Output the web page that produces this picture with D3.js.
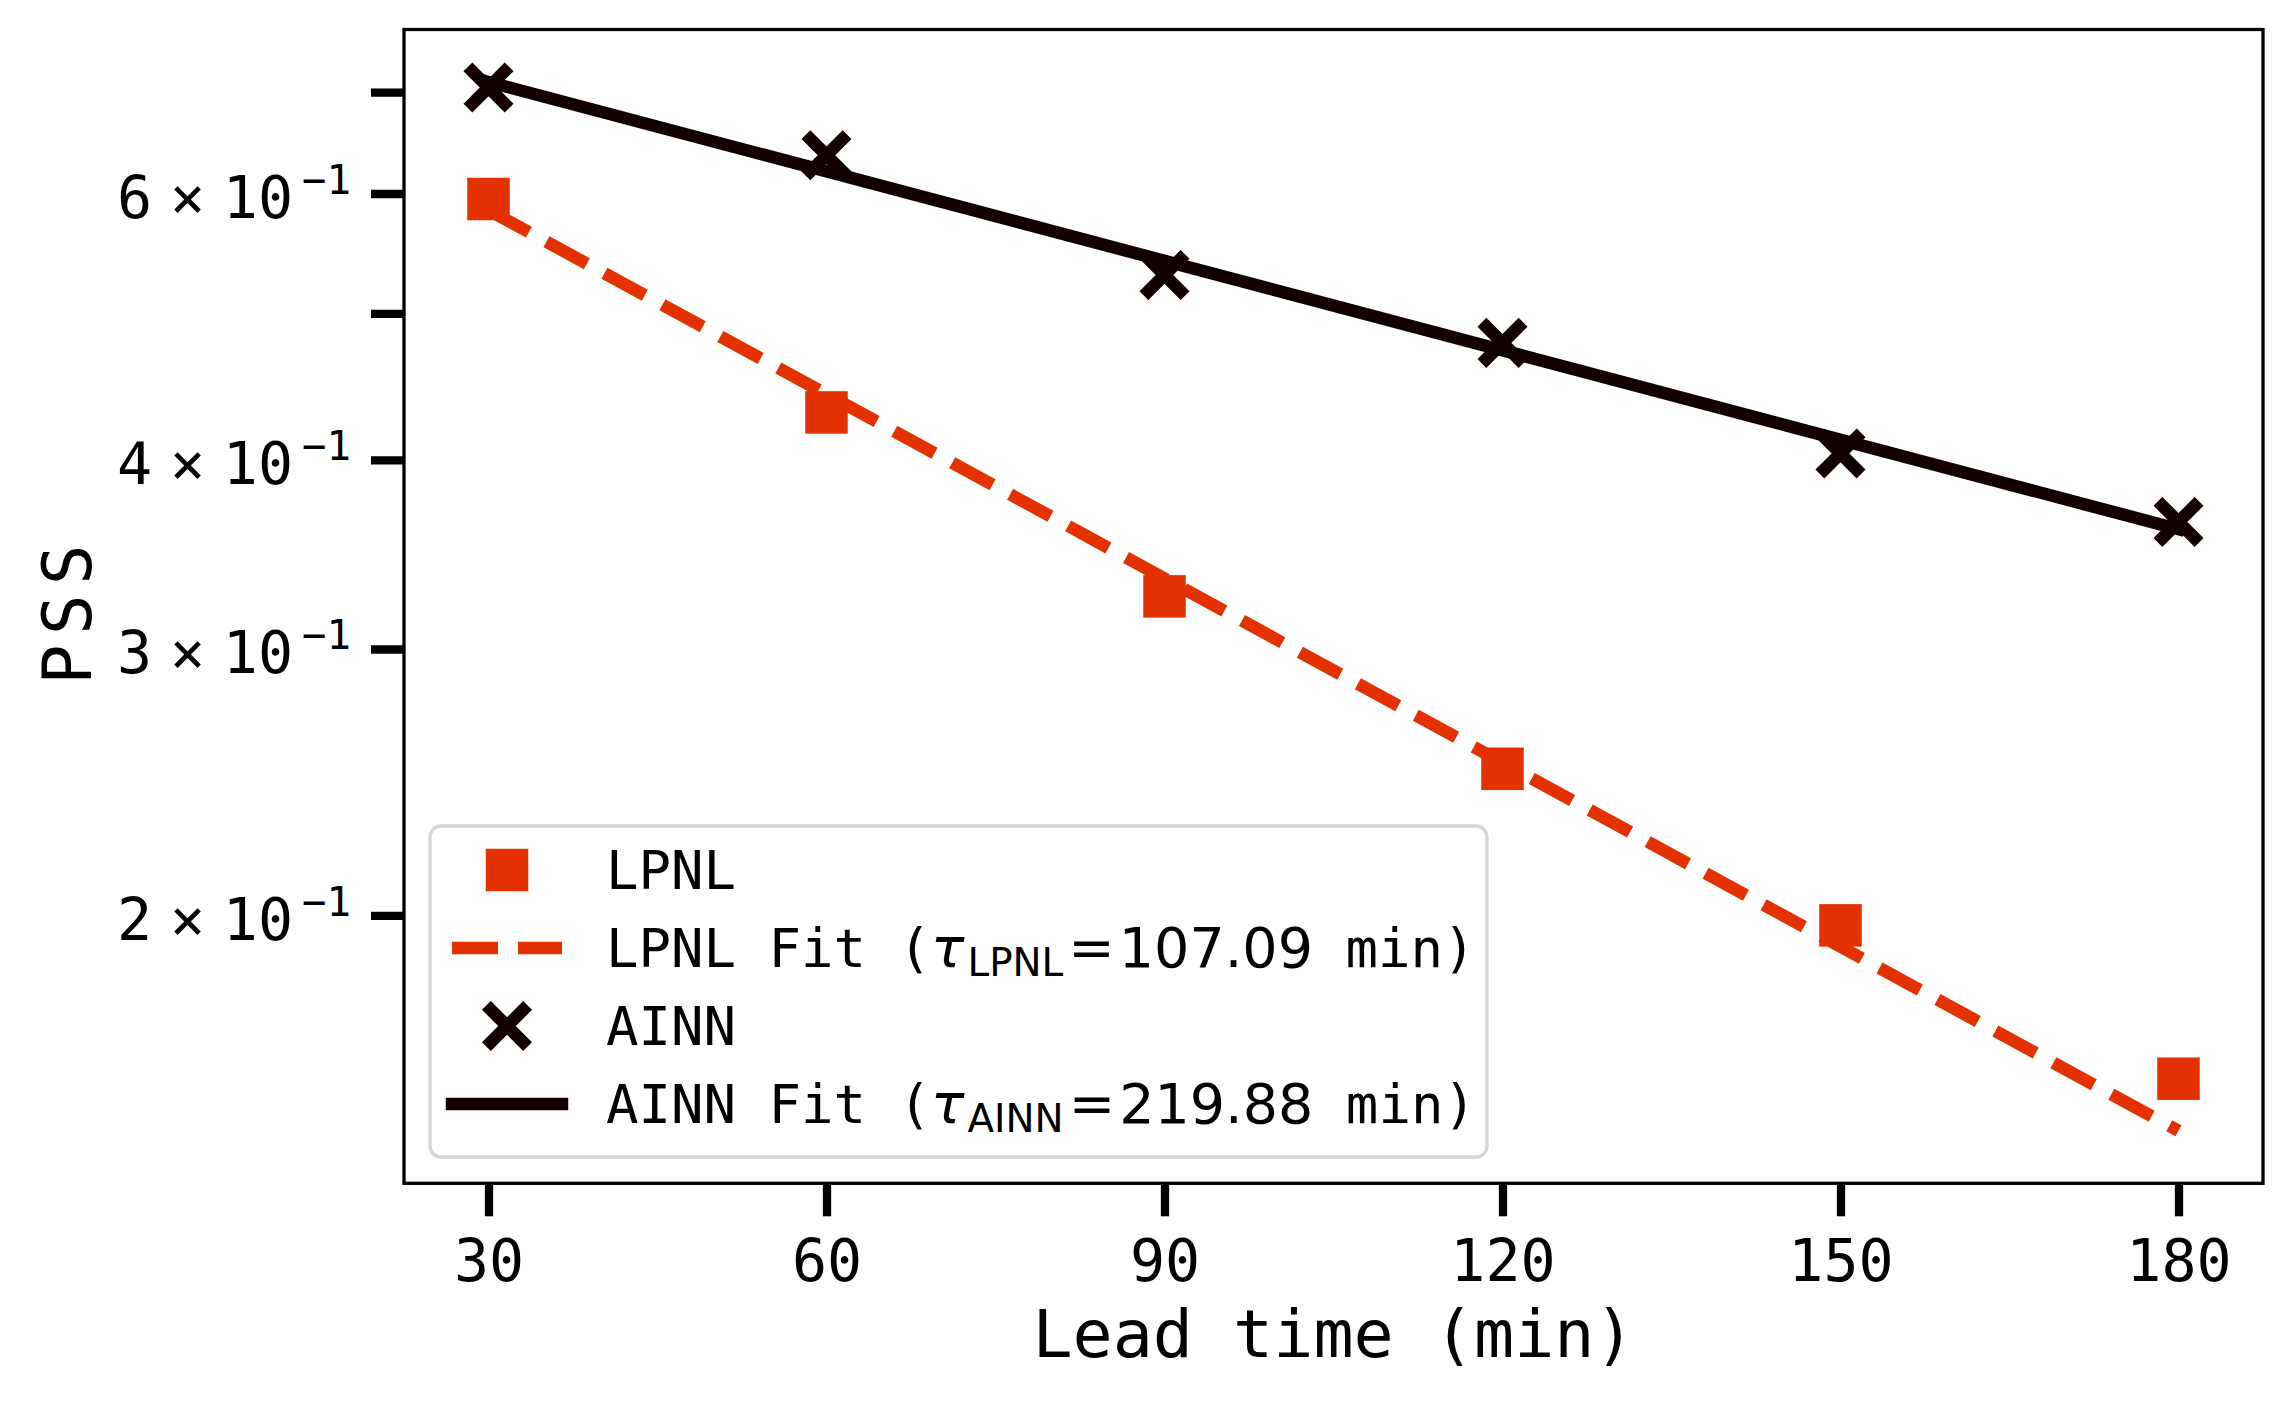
<!DOCTYPE html>
<html>
<head>
<meta charset="utf-8">
<title>PSS vs lead time</title>
<script src="https://cdn.jsdelivr.net/npm/d3@7"></script>
<style>
  body { margin: 0; background: #fff; }
  svg { display: block; background: #fff; }
  text { font-family: "DejaVu Sans Mono", monospace; fill: #000; white-space: pre; }
  .math { font-family: "DejaVu Sans", sans-serif; }
</style>
</head>
<body>
<svg id="chart" width="2293" height="1401"></svg>
<script>
// values
leadTimes = [30, 60, 90, 120, 150, 180];
lpnlPss = [0.595, 0.430, 0.325, 0.250, 0.197, 0.156];
ainnPss = [0.705, 0.636, 0.530, 0.478, 0.404, 0.364];
fitLead = [30, 180];
lpnlFit = [0.585, 0.1441];
ainnFit = [0.711, 0.360];
lpnlTau = "107.09";
ainnTau = "219.88";
xTicks = [30, 60, 90, 120, 150, 180];
yTicks = [0.2, 0.3, 0.4, 0.5, 0.6, 0.7];
yTickMantissa = ["2", "3", "4", "", "6", ""];

// look
red = "#e33200";
dark = "#120000";
lw = 12.5;
monoSize = 54;
mathSize = 55.5;

chart = d3.select("#chart");

// axes box, matplotlib-style 5% margins
axLeft = 404; axRight = 2263; axTop = 29.5; axBottom = 1183.3;
xExt = d3.extent(leadTimes);
xPad = (xExt[1] - xExt[0]) * 0.05;
x = d3.scaleLinear().domain([xExt[0] - xPad, xExt[1] + xPad]).range([axLeft, axRight]);
allY = lpnlPss.concat(ainnPss, lpnlFit, ainnFit);
lo = Math.log10(d3.min(allY)); hi = Math.log10(d3.max(allY));
yPad = (hi - lo) * 0.05;
y = d3.scaleLog().domain([Math.pow(10, lo - yPad), Math.pow(10, hi + yPad)]).range([axBottom, axTop]);

// x axis
xAxis = d3.axisBottom(x).tickValues(xTicks).tickSize(33).tickSizeOuter(0);
xAxisGroup = chart.append("g").attr("transform", "translate(0," + axBottom + ")").call(xAxis);
xAxisGroup.select(".domain").remove();
xAxisGroup.selectAll(".tick line").attr("stroke", "#000").attr("stroke-width", 8.3);
xAxisGroup.selectAll(".tick text")
  .attr("y", 97.4).attr("dy", null)
  .attr("font-size", 58.3).attr("font-family", "DejaVu Sans Mono").attr("fill", "#000");

// y axis (log), labelled as  m × 10^-1
yAxis = d3.axisLeft(y).tickValues(yTicks).tickSize(33).tickSizeOuter(0).tickFormat("");
yAxisGroup = chart.append("g").attr("transform", "translate(" + axLeft + ",0)").call(yAxis);
yAxisGroup.select(".domain").remove();
yAxisGroup.selectAll(".tick line").attr("stroke", "#000").attr("stroke-width", 8.3);
yAxisGroup.selectAll(".tick text").remove();
yAxisGroup.selectAll(".tick").each(function(d, i) {
  if (!yTickMantissa[i]) return;
  var t = d3.select(this).append("text")
    .attr("x", -287).attr("y", 24)
    .attr("font-size", 58.3).attr("text-anchor", "start");
  t.append("tspan").text(yTickMantissa[i]);
  t.append("tspan").attr("dx", 18).text("×");
  t.append("tspan").attr("dx", 17.6).text("10");
  t.append("tspan").attr("dx", 8.8).attr("dy", -24).attr("font-size", 40.8).text("−1");
});

// axis labels
chart.append("text")
  .attr("x", (axLeft + axRight) / 2).attr("y", 1357)
  .attr("text-anchor", "middle").attr("font-size", 66.7)
  .text("Lead time (min)");
chart.append("text")
  .attr("transform", "translate(91,610) rotate(-90)")
  .attr("text-anchor", "middle").attr("font-size", 67)
  .attr("letter-spacing", 9.5)
  .text("PSS");

// plot
plot = chart.append("g");
line = d3.line()
  .x(function(d) { return x(d[0]); })
  .y(function(d) { return y(d[1]); });

function squares(g, xs, ys) {
  g.selectAll(null).data(d3.zip(xs, ys)).enter().append("rect")
    .attr("x", function(d) { return x(d[0]) - 21.25; })
    .attr("y", function(d) { return y(d[1]) - 21.25; })
    .attr("width", 42.5).attr("height", 42.5)
    .attr("fill", red);
}
function crossPath(cx, cy) {
  var s = 20.6;
  return "M" + (cx - s) + "," + (cy - s) + "L" + (cx + s) + "," + (cy + s) +
    "M" + (cx - s) + "," + (cy + s) + "L" + (cx + s) + "," + (cy - s);
}
function crosses(g, xs, ys) {
  g.selectAll(null).data(d3.zip(xs, ys)).enter().append("path")
    .attr("d", function(d) { return crossPath(x(d[0]), y(d[1])); })
    .attr("fill", "none").attr("stroke", dark).attr("stroke-width", lw);
}

squares(plot, leadTimes, lpnlPss);
plot.append("path")
  .attr("d", line(d3.zip(fitLead, lpnlFit)))
  .attr("fill", "none").attr("stroke", red).attr("stroke-width", lw)
  .attr("stroke-dasharray", "46,20");
crosses(plot, leadTimes, ainnPss);
plot.append("path")
  .attr("d", line(d3.zip(fitLead, ainnFit)))
  .attr("fill", "none").attr("stroke", dark).attr("stroke-width", lw)
  .attr("stroke-linecap", "square");

// spines
chart.append("rect")
  .attr("x", axLeft).attr("y", axTop)
  .attr("width", axRight - axLeft).attr("height", axBottom - axTop)
  .attr("fill", "none").attr("stroke", "#000").attr("stroke-width", 3.3);

// legend
legend = chart.append("g");
legend.append("rect")
  .attr("x", 430).attr("y", 826).attr("width", 1057).attr("height", 331)
  .attr("rx", 11).attr("ry", 11)
  .attr("fill", "#fff").attr("fill-opacity", 0.8)
  .attr("stroke", "#d5d5d5").attr("stroke-width", 3.3);

rowBase = [889, 967, 1045, 1123];
hx = 507; textX = 606;

function fitLabel(base, name, tau) {
  var t = legend.append("text").attr("x", textX).attr("y", base).attr("font-size", monoSize);
  t.append("tspan").text(name + " Fit (");
  t.append("tspan").attr("class", "math").attr("font-size", mathSize)
    .attr("font-style", "italic").text("τ");
  t.append("tspan").attr("class", "math").attr("font-size", mathSize * 0.7)
    .attr("dx", 3).attr("dy", 9).text(name);
  t.append("tspan").attr("class", "math").attr("font-size", mathSize)
    .attr("dx", 5).attr("dy", -9).text("=");
  t.append("tspan").attr("class", "math").attr("font-size", mathSize)
    .attr("dx", 4).text(tau);
  t.append("tspan").text(" min)");
}

// row 1: LPNL squares
legend.append("rect")
  .attr("x", hx - 21.25).attr("y", rowBase[0] - 19 - 21.25)
  .attr("width", 42.5).attr("height", 42.5).attr("fill", red);
legend.append("text").attr("x", textX).attr("y", rowBase[0]).attr("font-size", monoSize).text("LPNL");

// row 2: LPNL fit
legend.append("path")
  .attr("d", "M452," + (rowBase[1] - 19) + "H562")
  .attr("stroke", red).attr("stroke-width", lw).attr("stroke-dasharray", "46,20");
fitLabel(rowBase[1], "LPNL", lpnlTau);

// row 3: AINN crosses
legend.append("path")
  .attr("d", crossPath(hx, rowBase[2] - 19))
  .attr("fill", "none").attr("stroke", dark).attr("stroke-width", lw);
legend.append("text").attr("x", textX).attr("y", rowBase[2]).attr("font-size", monoSize).text("AINN");

// row 4: AINN fit
legend.append("path")
  .attr("d", "M452," + (rowBase[3] - 19) + "H562")
  .attr("stroke", dark).attr("stroke-width", lw).attr("stroke-linecap", "square");
fitLabel(rowBase[3], "AINN", ainnTau);
</script>
</body>
</html>
